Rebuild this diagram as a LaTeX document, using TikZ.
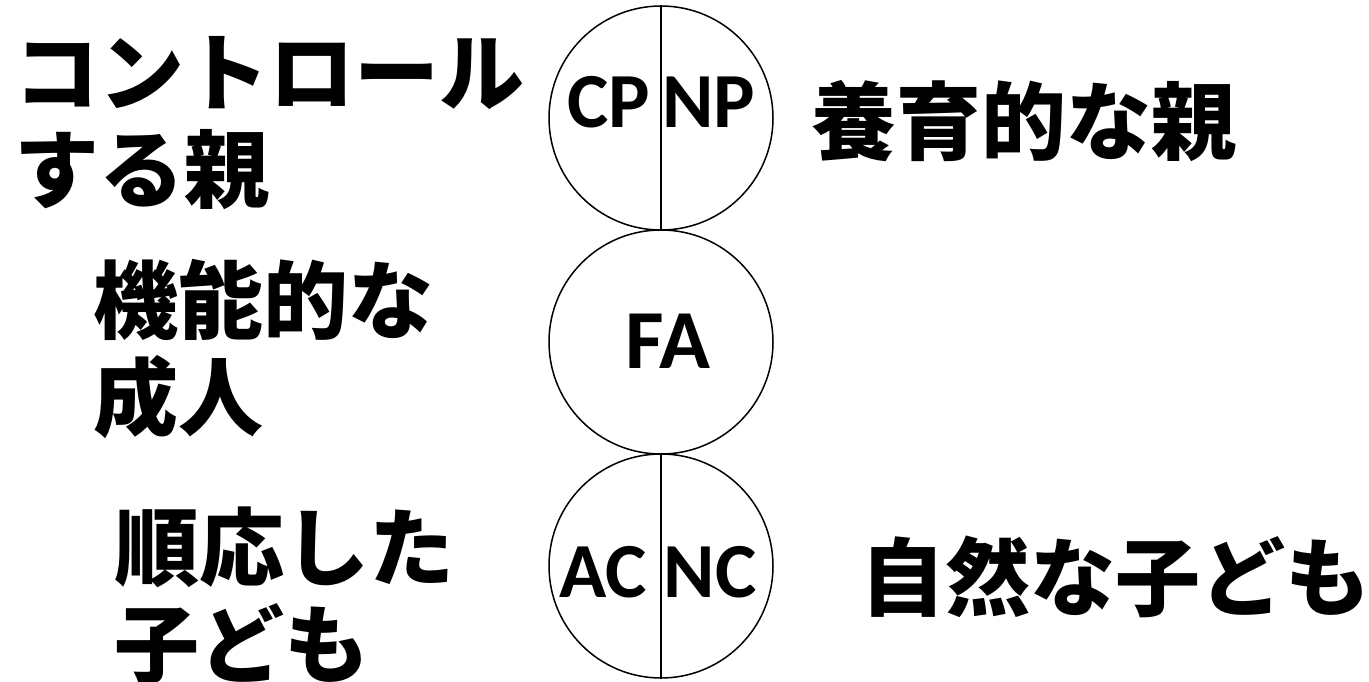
\documentclass[tikz,border=0pt]{standalone}
\usepackage{fontspec}
\setmainfont{Carlito}
\newfontfamily\jpfont{Noto Sans CJK JP}
\usetikzlibrary{positioning}

\tikzset{
    ego/.style={draw, circle, line width=1.5pt, minimum size=224pt, inner sep=0pt},
    egotag/.style={font=\fontsize{78}{90}\selectfont\bfseries, inner sep=0pt, anchor=base},
    jplabel/.style={font=\jpfont\bfseries\fontsize{85}{97}\selectfont, align=left, inner sep=0pt, anchor=base west}
}

\begin{document}
\begin{tikzpicture}[x=1pt, y=-1pt]
    \useasboundingbox (0,0) rectangle (1369,682);

    % ego state circles
    \node[ego] (parent) at (661,118) {};
    \node[ego] (adult) at (661,342) {};
    \node[ego] (child) at (661,566) {};
    \draw[line width=1.5pt] (parent.north) -- (parent.south);
    \draw[line width=1.5pt] (child.north) -- (child.south);

    % letters inside
    \node[egotag] (cp) at (609,128) {CP};
    \node[egotag] (np) at (709,128) {NP};
    \node[egotag, font=\fontsize{84}{96}\selectfont\bfseries] (fa) at (668,368) {FA};
    \node[egotag] (ac) at (603,597) {AC};
    \node[egotag] (nc) at (710,597) {NC};

    % labels (base = last line)
    \node[jplabel] (cpname) at (14,201) {コントロール\\する親};
    \node[jplabel] (npname) at (811,154) {養育的な親};
    \node[jplabel] (faname) at (93,429) {機能的な\\成人};
    \node[jplabel] (acname) at (114,676) {順応した\\子ども};
    \node[jplabel] (ncname) at (860,609) {自然な子ども};
\end{tikzpicture}
\end{document}
